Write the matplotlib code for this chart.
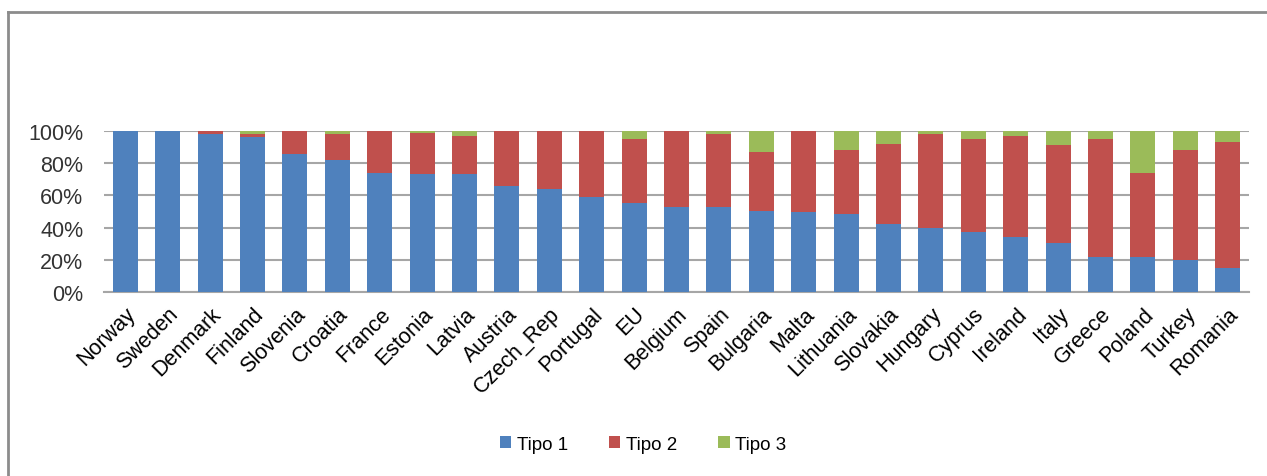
import matplotlib
matplotlib.use('Agg')
from matplotlib import pyplot as plt
from matplotlib.lines import Line2D
import numpy as np

plt.rcParams['font.family'] = ['Liberation Sans', 'DejaVu Sans']

paises = ['Norway', 'Sweden', 'Denmark', 'Finland', 'Slovenia', 'Croatia', 'France',
          'Estonia', 'Latvia', 'Austria', 'Czech_Rep', 'Portugal', 'EU', 'Belgium',
          'Spain', 'Bulgaria', 'Malta', 'Lithuania', 'Slovakia', 'Hungary', 'Cyprus',
          'Ireland', 'Italy', 'Greece', 'Poland', 'Turkey', 'Romania']
tipo1 = [100, 100, 98, 96, 86, 82, 74, 73, 73, 66, 64, 59, 55.5, 53, 53, 50.5, 50,
         48.6, 42, 40, 37, 34, 30.6, 22, 22, 20, 15]
tipo2 = [0, 0, 2, 2, 14, 16, 26, 26, 24, 34, 36, 41, 39.5, 47, 45, 36.5, 50,
         39.4, 50, 58, 58, 63, 60.4, 73, 52, 68, 78]
tipo3 = [0, 0, 0, 2, 0, 2, 0, 1, 3, 0, 0, 0, 5, 0, 2, 13, 0,
         12, 8, 2, 5, 3, 9, 5, 26, 12, 7]

cores = ['#4F81BD', '#C0504D', '#9BBB59']
nomes = ['Tipo 1', 'Tipo 2', 'Tipo 3']

fig = plt.figure(figsize=(12.67, 4.77), dpi=100)
ax = fig.add_axes([104/1267, 1-293/477, (1249-104)/1267, (293-132)/477])

x = np.arange(len(paises))
base = np.zeros(len(paises))
for serie, cor, nome in zip([tipo1, tipo2, tipo3], cores, nomes):
    ax.bar(x, serie, bottom=base, width=0.59, color=cor, label=nome, zorder=3)
    base = base + np.array(serie)

ax.set_xlim(-0.5, len(paises) - 0.5)
ax.set_ylim(0, 100)
ax.set_yticks([0, 20, 40, 60, 80, 100])
ax.set_yticklabels(['0%', '20%', '40%', '60%', '80%', '100%'], fontsize=15.5, color='#333333')
ax.set_xticks(x)
ax.set_xticklabels(paises, rotation=45, ha='right', rotation_mode='anchor', fontsize=15.5)
ax.tick_params(axis='y', length=0, pad=15)
ax.tick_params(axis='x', length=0, pad=8)
ax.grid(axis='y', color='#a6a6a6', linewidth=1.5, zorder=0)
for lado in ['top', 'right', 'left']:
    ax.spines[lado].set_visible(False)
ax.spines['bottom'].set_color('#a6a6a6')
ax.spines['bottom'].set_linewidth(1.5)

fig.legend(loc='center', bbox_to_anchor=(643/1267, 1-445/477), ncol=3, frameon=False,
           fontsize=13.5, handlelength=0.6, handleheight=0.6, handletextpad=0.3,
           columnspacing=2.2)

# moldura cinza (só topo e esquerda aparecem)
fig.add_artist(Line2D([8/1267, 8/1267], [0, 1-13/477], color='#8c8c8c', linewidth=2))
fig.add_artist(Line2D([8/1267, 1], [1-13/477, 1-13/477], color='#8c8c8c', linewidth=2))

plt.savefig('out.png', dpi=100)
